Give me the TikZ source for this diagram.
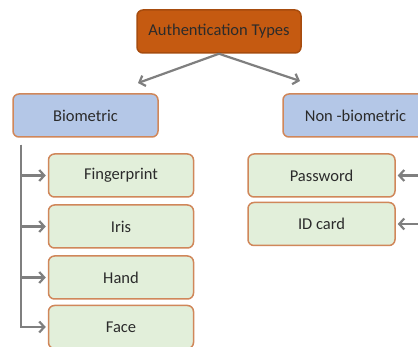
\documentclass[tikz,border=0pt]{standalone}
\usepackage{fontspec}
\setmainfont{Carlito}
\usetikzlibrary{arrows.meta}
\definecolor{topfill}{HTML}{C55A11}
\definecolor{bluefill}{HTML}{B4C7E7}
\definecolor{greenfill}{HTML}{E2EFDA}
\definecolor{boxedge}{HTML}{D0875A}
\definecolor{arrowgray}{HTML}{7F7F7F}
\definecolor{txt}{HTML}{2B2B2B}
\begin{document}
\begin{tikzpicture}[x=1pt,y=-1pt,
  box/.style={draw=boxedge, line width=1.5pt, rounded corners=6pt, minimum width=145pt, minimum height=43pt, inner sep=0pt, font=\fontsize{16.5}{18}\selectfont, text=txt, anchor=center},
  topbox/.style={box, fill=topfill, draw=topfill!85!black, minimum width=164pt},
  catbox/.style={box, fill=bluefill},
  leafbox/.style={box, fill=greenfill},
  arr/.style={draw=arrowgray, line width=2.2pt, -{Straight Barb[length=5pt,width=11pt,line width=2.2pt]}}]
\clip (0,0) rectangle (418,347);
\fill[white] (0,0) rectangle (418,347);
\node[topbox] (top) at (219,31.5) {Authentication Types};
\node[catbox] (bio) at (85.5,115.5) {Biometric};
\node[catbox] (non) at (355.5,115.5) {Non -biometric};
\node[leafbox] (fp) at (121,175.5) {Fingerprint};
\node[leafbox] (iris) at (121,226.5) {Iris};
\node[leafbox] (hand) at (121,277.5) {Hand};
\node[leafbox] (face) at (121,327) {Face};
\node[leafbox, minimum width=147pt] (pw) at (321.5,175.5) {Password};
\node[leafbox, minimum width=147pt] (id) at (321.5,224) {ID card};
\coordinate (lt) at (138,83);
\coordinate (rt) at (300,81);
\coordinate (trunk) at (21,145);
\coordinate (pr) at (420,175.5);
\coordinate (ir) at (420,224);
\draw[arr] (top.south) -- (lt);
\draw[arr] (top.south) -- (rt);
\draw[arr] (trunk) |- ([xshift=-2pt]fp.west);
\draw[arr] (trunk) |- ([xshift=-2pt]iris.west);
\draw[arr] (trunk) |- ([xshift=-2pt]hand.west);
\draw[arr] (trunk) |- ([xshift=-2pt]face.west);
\draw[arr] (pr) -- ([xshift=2pt]pw.east);
\draw[arr] (ir) -- ([xshift=2pt]id.east);
\end{tikzpicture}
\end{document}
